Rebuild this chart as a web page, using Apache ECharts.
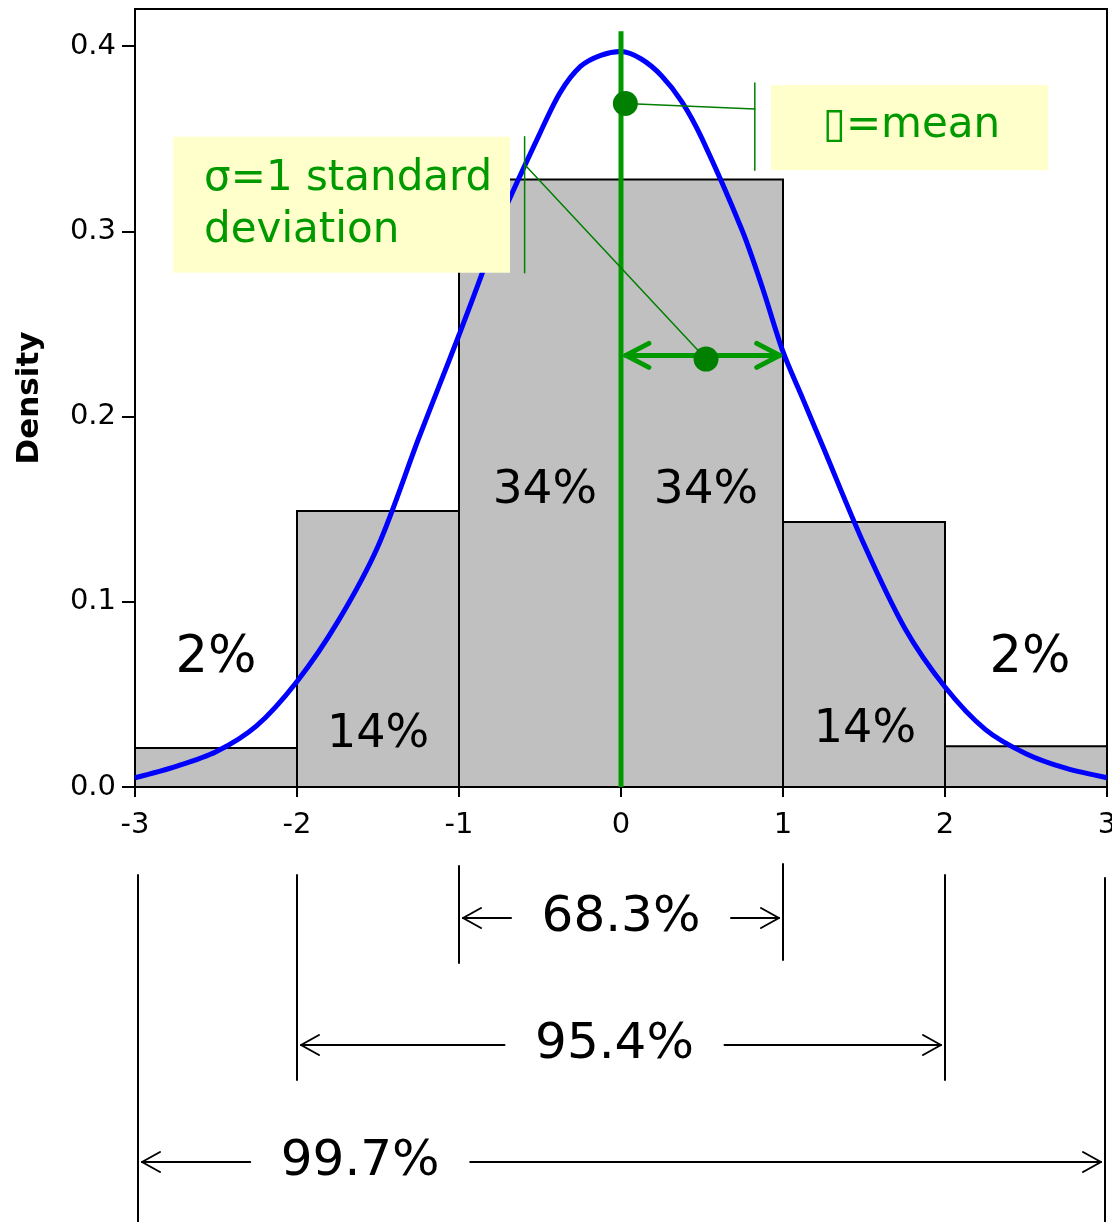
<!DOCTYPE html>
<html><head><meta charset="utf-8">
<script src="https://cdn.jsdelivr.net/npm/echarts@6/dist/echarts.min.js"></script>
<style>html,body{margin:0;padding:0;background:#fff}#c{width:1112px;height:1222px}</style>
</head><body><div id="c"></div>
<script>
// ---- data ----
const binEdges = [-3, -2, -1, 0, 1, 2, 3];
const binDensity = [0.021, 0.149, 0.328, 0.328, 0.143, 0.022];
const binLabels = ['2%', '14%', '34%', '34%', '14%', '2%'];
const curveX = [-3, -2.75, -2.5, -2.25, -2, -1.75, -1.5, -1.25, -1.125, -1, -0.85, -0.75, -0.5, -0.375, -0.25, -0.125, 0, 0.125, 0.25, 0.375, 0.5, 0.75, 0.875, 1, 1.125, 1.25, 1.5, 1.75, 2, 2.25, 2.5, 2.75, 3];
const curveY = [0.005, 0.011, 0.019, 0.033, 0.057, 0.089, 0.130, 0.188, 0.216, 0.244, 0.279, 0.305, 0.353, 0.375, 0.389, 0.395, 0.397, 0.393, 0.384, 0.370, 0.350, 0.300, 0.269, 0.235, 0.209, 0.183, 0.131, 0.086, 0.054, 0.031, 0.018, 0.010, 0.005];
const xTicks = [-3, -2, -1, 0, 1, 2, 3];
const yTicks = [0, 0.1, 0.2, 0.3, 0.4];
const meanLine = [[0, 0], [0, 0.408]];
const meanPoint = [0.027, 0.369];
const sdPoint = [0.525, 0.231];
const sdArrow = [0.03, 0.98, 0.233];   // from x, to x, at y
const spanLabels = ['68.3%', '95.4%', '99.7%'];
const spanLo = [-1, -2, -3];
const spanHi = [1, 2, 3];

// ---- chart ----
const F = 'DejaVu Sans';
const GREEN = '#009900', DKGREEN = '#007f00';
const chart = echarts.init(document.getElementById('c'), null, {renderer: 'canvas'});
chart.setOption({
  animation: false,
  backgroundColor: '#fff',
  textStyle: {fontFamily: F},
  grid: {left: 135, right: 5, top: 9, bottom: 435, containLabel: false, outerBoundsMode: 'none',
    show: true, borderColor: '#000', borderWidth: 2, backgroundColor: 'transparent'},
  xAxis: {
    type: 'value', min: -3, max: 3, interval: 1,
    axisLine: {show: true, onZero: false, lineStyle: {color: '#000', width: 2}},
    axisTick: {show: true, length: 10, lineStyle: {color: '#000', width: 2}, customValues: xTicks},
    axisLabel: {color: '#000', fontFamily: F, fontSize: 29, margin: 24, customValues: xTicks, formatter: v => String(v)},
    splitLine: {show: false}
  },
  yAxis: {
    type: 'value', min: 0, max: 0.42, interval: 0.1,
    name: 'Density', nameLocation: 'middle', nameGap: 90,
    nameTextStyle: {fontFamily: F, fontWeight: 'bold', fontSize: 31, color: '#000'},
    axisLine: {show: true, onZero: false, lineStyle: {color: '#000', width: 2}},
    axisTick: {show: true, length: 13, lineStyle: {color: '#000', width: 2}, customValues: yTicks},
    axisLabel: {color: '#000', fontFamily: F, fontSize: 29, margin: 19, customValues: yTicks, formatter: v => v.toFixed(1)},
    splitLine: {show: false}
  },
  series: [
    {
      type: 'custom', z: 1,
      data: binDensity.map((d, i) => [binEdges[i], binEdges[i + 1], d]),
      encode: {x: [0, 1], y: 2},
      renderItem: (params, api) => {
        const p0 = api.coord([api.value(0), api.value(2)]);
        const p1 = api.coord([api.value(1), 0]);
        return {type: 'rect', shape: {x: p0[0], y: p0[1], width: p1[0] - p0[0], height: p1[1] - p0[1]},
          style: {fill: '#c0c0c0', stroke: '#000', lineWidth: 2}};
      }
    },
    {
      type: 'line', z: 3, smooth: 0.3, symbol: 'none',
      data: curveX.map((x, i) => [x, curveY[i]]),
      lineStyle: {color: '#0000ff', width: 5}
    },
    {
      type: 'line', z: 4, symbol: 'none', data: meanLine,
      lineStyle: {color: GREEN, width: 5}
    },
    {
      type: 'scatter', z: 10, symbol: 'circle', symbolSize: 25,
      data: [meanPoint, sdPoint],
      itemStyle: {color: DKGREEN, opacity: 1}
    }
  ]
});

// ---- annotations ----
const P = (x, y) => chart.convertToPixel({gridIndex: 0}, [x, y]);
const G = [];
function seg(a, b, w, c, z) { G.push({type: 'line', z: z || 6, shape: {x1: a[0], y1: a[1], x2: b[0], y2: b[1]}, style: {stroke: c, lineWidth: w, lineCap: 'round'}}); }
function head(tip, dir, dx, dy, w, c, z) {
  G.push({type: 'polyline', z: z || 6, shape: {points: [[tip[0] - dir * dx, tip[1] - dy], tip, [tip[0] - dir * dx, tip[1] + dy]]},
    style: {stroke: c, lineWidth: w, lineCap: 'round', lineJoin: 'round', fill: null}});
}
function txt(t, x, y, size, color, align, z) {
  G.push({type: 'text', z: z || 7, x: x, y: y, style: {text: t, font: size + 'px "' + F + '"', fill: color, align: align || 'center', verticalAlign: 'middle'}});
}

// bin percentage labels
const labelPos = [[-2.5, 0.069], [-1.5, 0.028], [-0.47, 0.160], [0.525, 0.160], [1.506, 0.031], [2.525, 0.069]];
const labelSize = [51, 46, 47, 47, 46, 51];
binLabels.forEach((t, i) => { const p = P(labelPos[i][0], labelPos[i][1]); txt(t, p[0], p[1], labelSize[i], '#000'); });

// sd double arrow
const a0 = P(sdArrow[0], sdArrow[2]), a1 = P(sdArrow[1], sdArrow[2]);
seg(a0, a1, 5, GREEN, 6);
head(a0, -1, 23, 12, 5, GREEN, 6);
head(a1, 1, 23, 12, 5, GREEN, 6);

// mean callout
const mp = P(meanPoint[0], meanPoint[1]);
const mb = P(0.926, 0.379), mb2 = P(2.636, 0.333);
G.push({type: 'rect', z: 5, shape: {x: mb[0], y: mb[1], width: mb2[0] - mb[0], height: mb2[1] - mb[1]}, style: {fill: '#ffffcc'}});
const mbar = P(0.826, 0.380), mbar2 = P(0.826, 0.333);
seg(mbar, mbar2, 1.5, DKGREEN, 6);
seg(mp, P(0.826, 0.366), 1.5, DKGREEN, 6);
txt('\u25AF=mean', (mb[0] + mb2[0]) / 2 + 2, (mb[1] + mb2[1]) / 2 - 1, 42, GREEN);

// sd callout
const sb = P(-2.765, 0.351), sb2 = P(-0.685, 0.2776);
G.push({type: 'rect', z: 5, shape: {x: sb[0], y: sb[1], width: sb2[0] - sb[0], height: sb2[1] - sb[1]}, style: {fill: '#ffffcc'}});
const sbar = P(-0.595, 0.351), sbar2 = P(-0.595, 0.2776);
seg(sbar, sbar2, 1.5, DKGREEN, 6);
const sp = P(sdPoint[0], sdPoint[1]);
seg(sp, P(-0.595, 0.336), 1.5, DKGREEN, 6);
txt('\u03C3=1 standard', sb[0] + 31, sb[1] + 42, 42, GREEN, 'left');
txt('deviation', sb[0] + 31, sb[1] + 94, 42, GREEN, 'left');

// bottom span brackets
const lineTop = {'-3': 875, '-2': 875, '-1': 866, '1': 864, '2': 875, '3': 878};
const lineBot = {'-3': 1222, '-2': 1080, '-1': 963, '1': 960, '2': 1080, '3': 1222};
xTicks.filter(v => v !== 0).forEach(v => {
  let x = P(v, 0)[0];
  if (v === -3) x += 3; if (v === 3) x -= 2;
  seg([x, lineTop[v]], [x, lineBot[v]], 2, '#000', 6);
});
const spanY = [918, 1045, 1162];
const spanTextX = [0, -0.04, -1.61];
spanLabels.forEach((t, i) => {
  const y = spanY[i];
  let xl = P(spanLo[i], 0)[0] + 4, xr = P(spanHi[i], 0)[0] - 4;
  if (spanLo[i] === -3) xl += 3; if (spanHi[i] === 3) xr -= 2;
  const cx = P(spanTextX[i], 0)[0];
  seg([xl, y], [cx - 110, y], 2, '#000', 6);
  seg([cx + 110, y], [xr, y], 2, '#000', 6);
  head([xl, y], -1, 18, 10, 2, '#000', 6);
  head([xr, y], 1, 18, 10, 2, '#000', 6);
  txt(t, cx, y, 50, '#000');
});

chart.setOption({graphic: {elements: G}});
</script></body></html>
